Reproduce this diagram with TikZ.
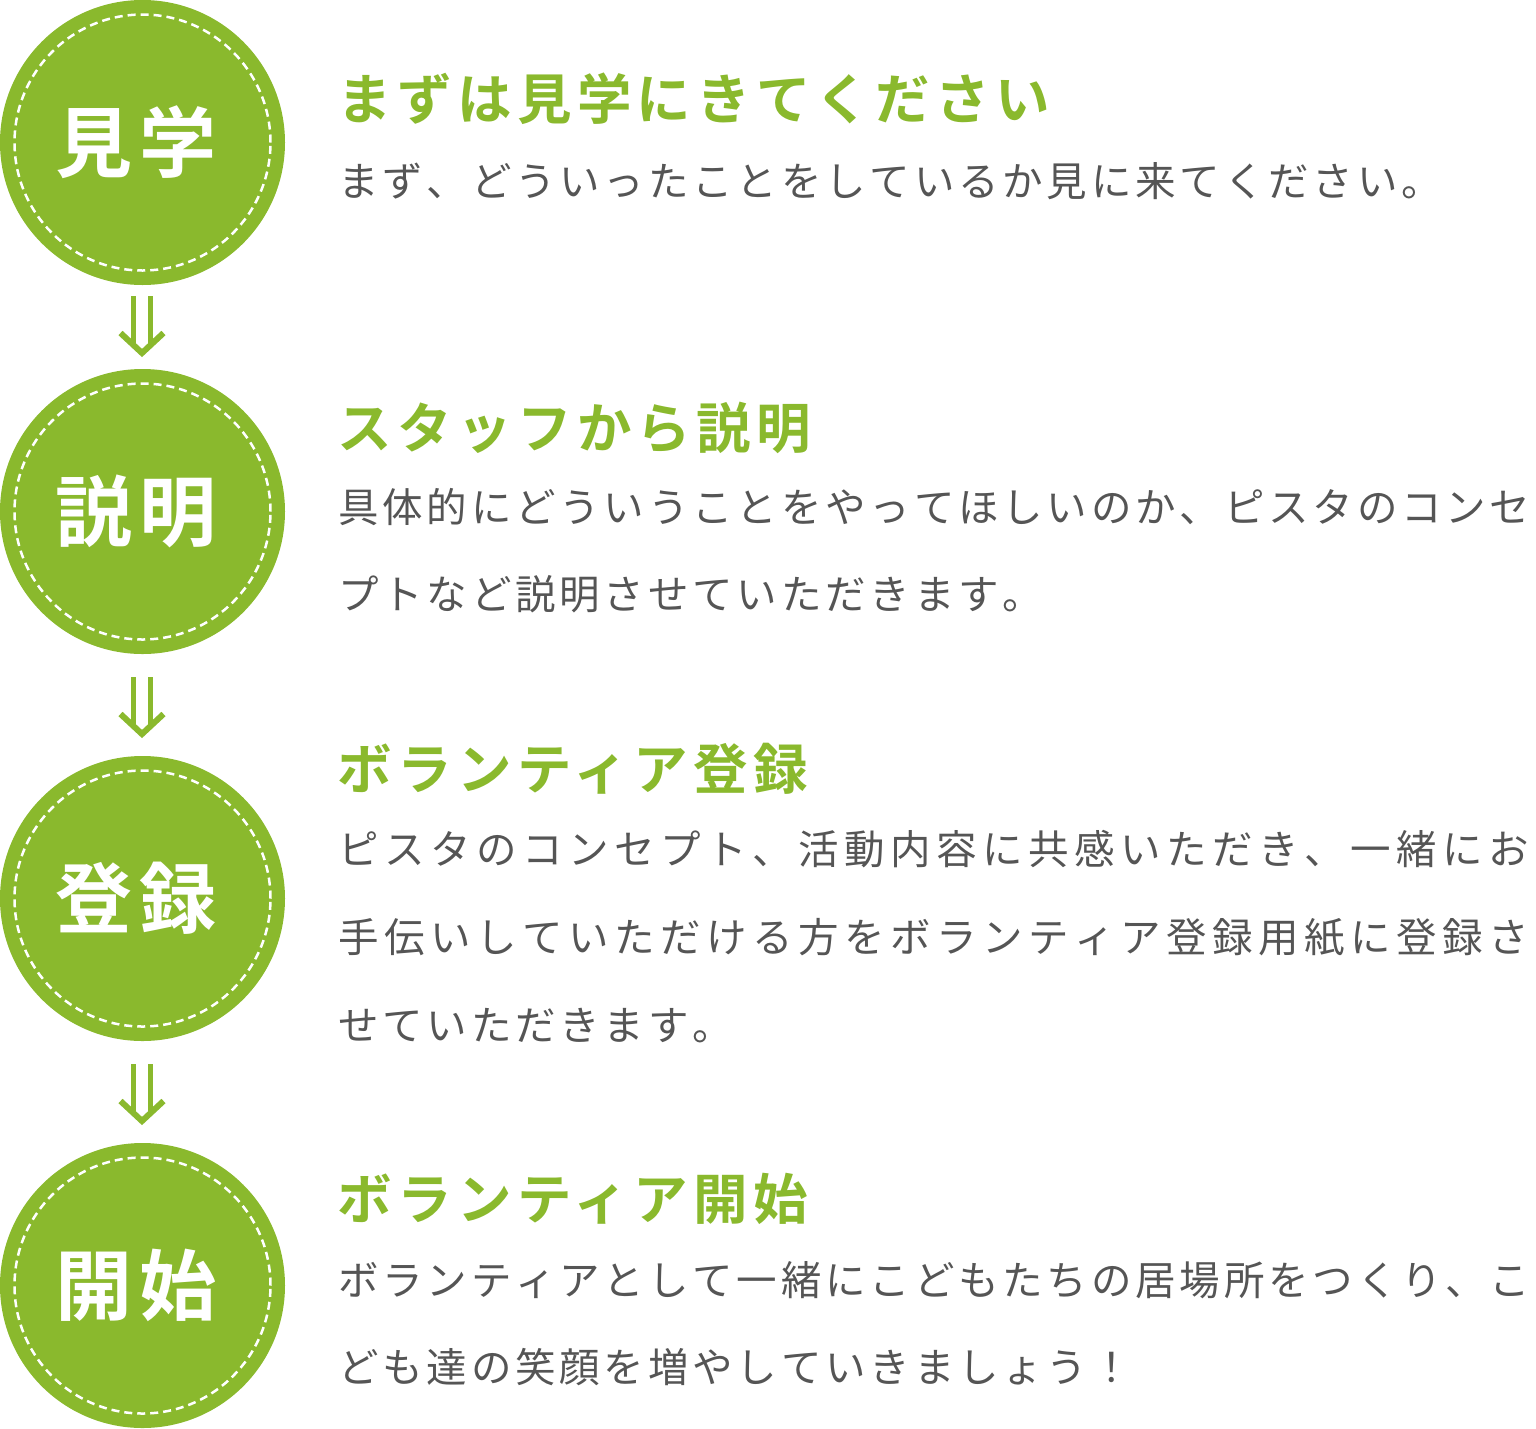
\documentclass[tikz,border=0pt]{standalone}
\usepackage{fontspec}
\newfontfamily\jpR{Noto Sans CJK JP}
\newfontfamily\jpB{Noto Sans CJK JP Bold}[LetterSpace=10]
\definecolor{leaf}{HTML}{8AB92D}
\definecolor{inkgray}{HTML}{555555}
\ExplSyntaxOn
\NewDocumentCommand\pitched{m m}{\tl_map_inline:nn {#2} {\hbox_to_wd:nn {#1} {##1\hss}}}
\ExplSyntaxOff
\tikzset{
  stepcircle/.style={circle, fill=leaf, minimum size=285pt, inner sep=0pt},
  dashring/.style={draw=white, line width=2.5pt, dash pattern=on 8pt off 5pt},
  circlabel/.style={anchor=base, text=white, inner sep=0pt, font=\jpB\fontsize{77pt}{77pt}\selectfont},
  steptitle/.style={anchor=base west, text=leaf, inner sep=0pt, font=\jpB\fontsize{54.5pt}{54.5pt}\selectfont},
  stepbody/.style={anchor=base west, text=inkgray, inner sep=0pt, font=\jpR\fontsize{40.5pt}{40.5pt}\selectfont},
  arrbar/.style={draw=leaf, line width=5pt},
  arrchev/.style={draw=leaf, line width=6pt, miter limit=10},
}
\begin{document}
\begin{tikzpicture}[x=1pt,y=-1pt]
\useasboundingbox (0,0) rectangle (1536,1428);
% circles
\node[stepcircle] (c1) at (142.5,142.5) {};
\node[stepcircle] (c2) at (142.5,511.5) {};
\node[stepcircle] (c3) at (142.5,898.5) {};
\node[stepcircle] (c4) at (142.5,1285.5) {};
\foreach \c in {c1,c2,c3,c4}{
  \draw[dashring] (\c.center) circle[radius=128pt];
}
\node[circlabel] (l1) at (136,171.5) {見学};
\node[circlabel] (l2) at (136,540.5) {説明};
\node[circlabel] (l3) at (136,927.5) {登録};
\node[circlabel] (l4) at (136,1314.5) {開始};
% arrows
\foreach \n/\y in {a1/296,a2/677,a3/1064}{
  \coordinate (\n) at (142,\y);
  \draw[arrbar] ([xshift=-8.5pt]\n) -- ++(0,51);
  \draw[arrbar] ([xshift=8pt]\n) -- ++(0,51);
  \draw[arrchev] ([shift={(-21.5,37)}]\n) -- ([shift={(0,57)}]\n) -- ([shift={(21.5,37)}]\n);
}
% texts
\node[steptitle] (t1) at (337,119.5) {まずは見学にきてください};
\node[stepbody] (b1) at (338,196) {\pitched{44.3pt}{まず、どういったことをしているか見に来てください。}};

\node[steptitle] (t2) at (337,448.5) {スタッフから説明};
\node[stepbody] (b2a) at (338,522) {\pitched{44.3pt}{具体的にどういうことをやってほしいのか、ピスタのコンセ}};
\node[stepbody] (b2b) at (338,609) {\pitched{44.3pt}{プトなど説明させていただきます。}};

\node[steptitle] (t3) at (337,789.5) {ボランティア登録};
\node[stepbody] (b3a) at (338,864) {\pitched{46pt}{ピスタのコンセプト、活動内容に共感いただき、一緒にお}};
\node[stepbody] (b3b) at (338,952) {\pitched{46pt}{手伝いしていただける方をボランティア登録用紙に登録さ}};
\node[stepbody] (b3c) at (338,1040) {\pitched{44.3pt}{せていただきます。}};

\node[steptitle] (t4) at (337,1219.5) {ボランティア開始};
\node[stepbody] (b4a) at (338,1295) {\pitched{44.3pt}{ボランティアとして一緒にこどもたちの居場所をつくり、こ}};
\node[stepbody] (b4b) at (338,1382) {\pitched{44.3pt}{ども達の笑顔を増やしていきましょう！}};
\end{tikzpicture}
\end{document}
